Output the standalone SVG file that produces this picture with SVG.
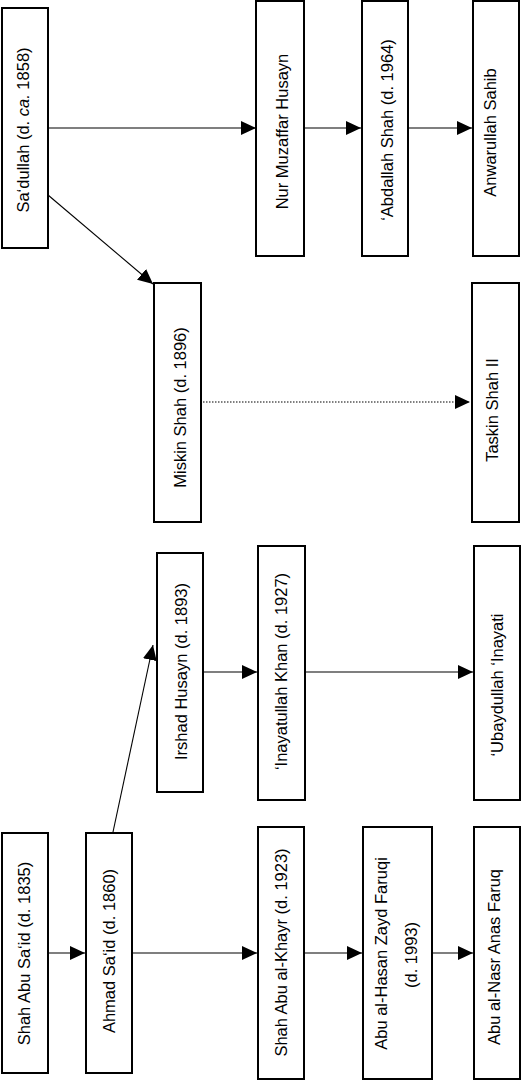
<svg xmlns="http://www.w3.org/2000/svg" width="521" height="1081" viewBox="0 0 521 1081">
<style>
.box{fill:#fff;stroke:#000;stroke-width:2}
.t{font-family:"Liberation Sans",Arial,sans-serif;font-size:16.5px;fill:#000;text-anchor:middle}
.c{fill:none;stroke:#000;stroke-width:1.1}
.d{stroke-dasharray:1.5 1.5}
</style>
<defs>
<marker id="ah" markerUnits="userSpaceOnUse" markerWidth="15" markerHeight="14" refX="15" refY="7" orient="auto">
<path d="M0,0 L15,7 L0,14 z" fill="#000"/>
</marker>
</defs>
<rect width="521" height="1081" fill="#fff"/>
<g id="connectors">
<line class="c" x1="48" y1="128" x2="256" y2="128" marker-end="url(#ah)"/>
<line class="c" x1="304" y1="128" x2="361" y2="128" marker-end="url(#ah)"/>
<line class="c" x1="408" y1="128" x2="472" y2="128" marker-end="url(#ah)"/>
<line class="c" x1="48" y1="195" x2="153" y2="284" marker-end="url(#ah)"/>
<line class="c d" x1="203" y1="402" x2="470" y2="402" marker-end="url(#ah)"/>
<line class="c" x1="113" y1="832" x2="153" y2="645" marker-end="url(#ah)"/>
<line class="c" x1="201" y1="672" x2="257" y2="672" marker-end="url(#ah)"/>
<line class="c" x1="305" y1="672" x2="473" y2="672" marker-end="url(#ah)"/>
<line class="c" x1="48" y1="953" x2="85" y2="953" marker-end="url(#ah)"/>
<line class="c" x1="132" y1="953" x2="257" y2="953" marker-end="url(#ah)"/>
<line class="c" x1="304" y1="953" x2="362" y2="953" marker-end="url(#ah)"/>
<line class="c" x1="432" y1="953" x2="473" y2="953" marker-end="url(#ah)"/>
</g>
<g id="sadullah"><rect class="box" x="2" y="8" width="46" height="240"/>
<text class="t" transform="translate(28.5,130) rotate(-90)">Sa‘dullah (d. <tspan font-style="italic">ca.</tspan> 1858)</text></g>
<g id="nur"><rect class="box" x="256" y="1" width="48" height="255"/>
<text class="t" transform="translate(288,131.5) rotate(-90)">Nur Muzaffar Husayn</text></g>
<g id="abdallah"><rect class="box" x="362" y="1" width="46" height="255"/>
<text class="t" transform="translate(393,130) rotate(-90)">‘Abdallah Shah (d. 1964)</text></g>
<g id="anwarullah"><rect class="box" x="473" y="1" width="46" height="255"/>
<text class="t" transform="translate(496,132.5) rotate(-90)">Anwarullah Sahib</text></g>
<g id="miskin"><rect class="box" x="154" y="283" width="47" height="239"/>
<text class="t" transform="translate(186,407.5) rotate(-90)">Miskin Shah (d. 1896)</text></g>
<g id="taskin"><rect class="box" x="472" y="283" width="47" height="239"/>
<text class="t" transform="translate(498,410) rotate(-90)">Taskin Shah II</text></g>
<g id="irshad"><rect class="box" x="157" y="553" width="46" height="239"/>
<text class="t" transform="translate(187,671.5) rotate(-90)">Irshad Husayn (d. 1893)</text></g>
<g id="inayatullah"><rect class="box" x="258" y="546" width="47" height="254" stroke-width="2.6"/>
<text class="t" transform="translate(287,671.5) rotate(-90)">‘Inayatullah Khan (d. 1927)</text></g>
<g id="ubaydullah"><rect class="box" x="474" y="546" width="46" height="254"/>
<text class="t" transform="translate(503,685) rotate(-90)">‘Ubaydullah ‘Inayati</text></g>
<g id="shahabusaid"><rect class="box" x="2" y="833" width="46" height="240"/>
<text class="t" transform="translate(30,953.5) rotate(-90)">Shah Abu Sa‘id (d. 1835)</text></g>
<g id="ahmad"><rect class="box" x="86" y="833" width="46" height="240"/>
<text class="t" transform="translate(115,951) rotate(-90)">Ahmad Sa‘id (d. 1860)</text></g>
<g id="khayr"><rect class="box" x="258" y="827" width="46" height="252"/>
<text class="t" transform="translate(287,952.5) rotate(-90)">Shah Abu al-Khayr (d. 1923)</text></g>
<g id="hasan"><rect class="box" x="363" y="827" width="69" height="252"/>
<text class="t" transform="translate(386.5,953.5) rotate(-90)">Abu al-Hasan Zayd Faruqi</text>
<text class="t" transform="translate(416.5,955) rotate(-90)">(d. 1993)</text></g>
<g id="nasr"><rect class="box" x="474" y="827" width="46" height="252"/>
<text class="t" transform="translate(500,957) rotate(-90)">Abu al-Nasr Anas Faruq</text></g>
</svg>
